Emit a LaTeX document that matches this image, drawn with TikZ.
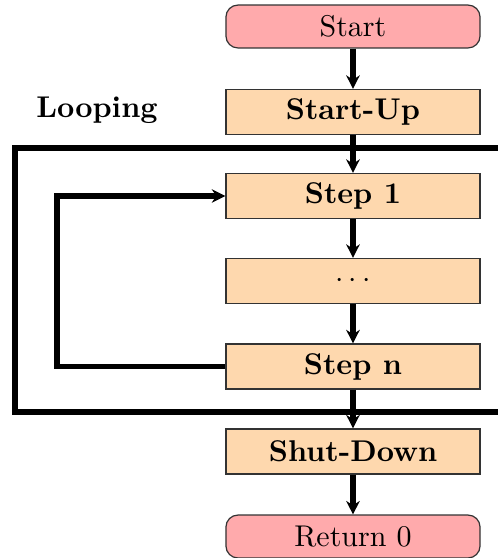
\documentclass[tikz,border=0pt]{standalone}
\usetikzlibrary{arrows.meta}
\definecolor{termfill}{RGB}{255,170,172}
\definecolor{stepfill}{RGB}{254,216,174}
\begin{document}
\begin{tikzpicture}[x=0.3333pt,y=-0.3333pt,
  term/.style={draw=black!80, fill=termfill, rounded corners=4pt, minimum width=84.7pt, minimum height=14.3pt, inner sep=0pt, font=\normalsize},
  stepbox/.style={draw=black!80, fill=stepfill, minimum width=84.7pt, minimum height=15pt, inner sep=0pt, font=\bfseries},
  flow/.style={line width=1.7pt, -{Stealth[length=4.5pt,width=4.5pt]}},
  loopline/.style={line width=1.7pt}]
\useasboundingbox (0,0) rectangle (498,558);
\node[term] (start) at (353,26.5) {Start};
\node[stepbox] (startup) at (353,112) {Start-Up};
\node[stepbox] (s1) at (353,196) {Step 1};
\node[stepbox] (dots) at (353,281) {\mdseries$\cdots$};
\node[stepbox] (sn) at (353,366.5) {Step n};
\node[stepbox] (shut) at (353,451.5) {Shut-Down};
\node[term] (ret) at (353,536.5) {Return 0};
\node[font=\bfseries] (lab) at (97,110) {Looping};
\draw[loopline] (520,148) -- (15,148) -- (15,412) -- (520,412);
\draw[flow] (start) -- (startup);
\draw[flow] (startup) -- (s1);
\draw[flow] (s1) -- (dots);
\draw[flow] (dots) -- (sn);
\draw[flow] (sn) -- (shut);
\draw[flow] (shut) -- (ret);
\draw[line width=1.7pt, -{Stealth[length=4.5pt,width=4.5pt]}] (sn.west) -- (57,366.5) -- (57,196) -- (s1.west);
\end{tikzpicture}
\end{document}
